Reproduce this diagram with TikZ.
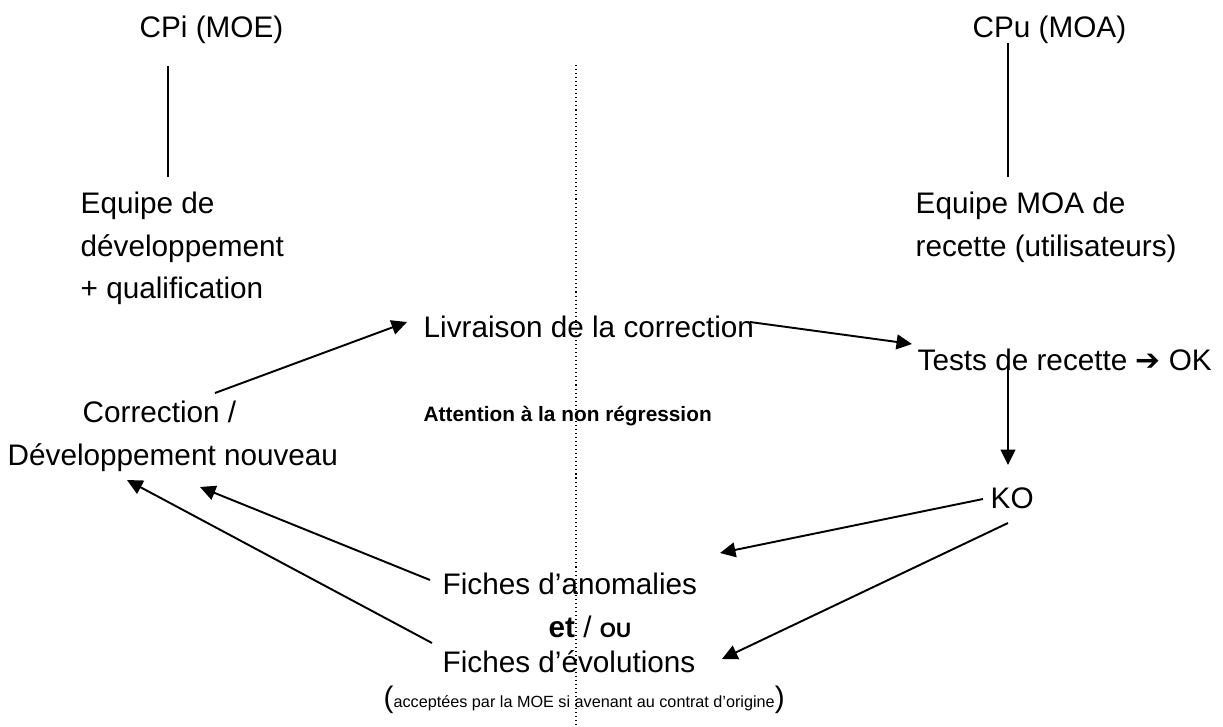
\documentclass[tikz,border=0pt]{standalone}
\usepackage{fontspec}
\setmainfont{Liberation Sans}
\newfontfamily\symfont{DejaVu Sans}
\usetikzlibrary{arrows.meta}
\newcommand{\midsz}{\fontsize{5.92}{7}\selectfont}
\newcommand{\notesz}{\fontsize{4.61}{5.5}\selectfont}
\tikzset{
  txt/.style={anchor=base west, inner sep=0pt, font=\fontsize{8.45}{10}\selectfont},
  smallbold/.style={anchor=base west, inner sep=0pt, font=\midsz\bfseries},
  flow/.style={line width=0.55pt, -{Triangle[length=4.4pt,width=4.2pt]}},
  link/.style={line width=0.55pt},
}
\begin{document}
\begin{tikzpicture}[x=0.01cm,y=-0.01cm]
\useasboundingbox (0,0) rectangle (1223,727);
\coordinate (septop) at (576,65);
\coordinate (sepbot) at (576,727);
\draw[line width=0.3pt,dash pattern=on 0.3pt off 0.85pt] (septop)--(sepbot);
\node[txt] (cpi) at (139,37) {CPi (MOE)};
\node[txt] (cpu) at (972,37) {CPu (MOA)};
\node[txt] (eqa) at (80,213) {Equipe de};
\node[txt] (eqb) at (80,256) {développement};
\node[txt] (eqc) at (80,298) {+ qualification};
\node[txt] (moaa) at (915,213) {Equipe MOA de};
\node[txt] (moab) at (915,256) {recette (utilisateurs)};
\node[txt] (livr) at (423,337) {Livraison de la correction};
\node[txt] (tests) at (917,370) {Tests de recette {\symfont ➔} OK};
\node[txt] (corra) at (82,422) {Correction /};
\node[txt] (corrb) at (7,465) {Développement nouveau};
\node[smallbold] (attn) at (423,421) {Attention à la non régression};
\node[txt] (ko) at (990,508) {KO};
\node[txt] (fano) at (442,594) {Fiches d’anomalies};
\node[txt] (etou) at (548,637) {{\bfseries et} / {\midsz\bfseries OU}};
\node[txt] (fevo) at (442,672) {Fiches d’évolutions};
\node[txt] (note) at (383,707) {({\notesz acceptées par la MOE si avenant au contrat d’origine})};
% end points
\coordinate (cpibot) at (168,66);
\coordinate (eqtop) at (168,177);
\coordinate (cpubot) at (1008,43);
\coordinate (moatop) at (1008,177);
\coordinate (corrout) at (215,393);
\coordinate (livrin) at (407,322);
\coordinate (livrout) at (750,322);
\coordinate (testsin) at (912,344);
\coordinate (testsout) at (1008,363);
\coordinate (koin) at (1008,465);
\coordinate (koouta) at (983,499);
\coordinate (kooutb) at (1008,523);
\coordinate (fanoin) at (720,553);
\coordinate (fevoin) at (722,659);
\coordinate (fanoout) at (430,580);
\coordinate (fevoout) at (432,643);
\coordinate (corrina) at (200,487);
\coordinate (corrinb) at (127,480);
\draw[link] (cpibot)--(eqtop);
\draw[link] (cpubot)--(moatop);
\draw[flow] (corrout)--(livrin);
\draw[flow] (livrout)--(testsin);
\draw[flow] (testsout)--(koin);
\draw[flow] (koouta)--(fanoin);
\draw[flow] (kooutb)--(fevoin);
\draw[flow] (fanoout)--(corrina);
\draw[flow] (fevoout)--(corrinb);
\end{tikzpicture}
\end{document}
